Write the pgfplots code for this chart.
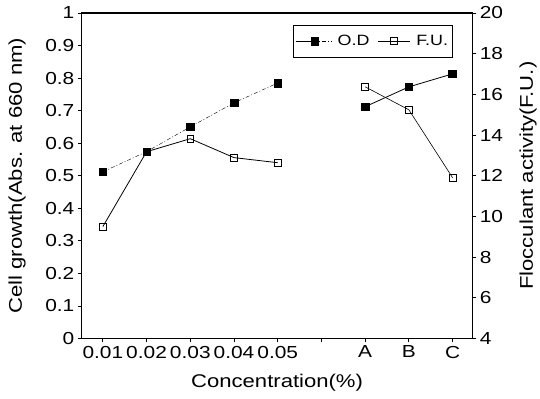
\documentclass[border=0pt]{standalone}
\usepackage{fontspec}
\setmainfont{Liberation Sans}[FakeStretch=1.2]
\usepackage{pgfplots}
\pgfplotsset{compat=1.18}
\pgfplotsset{
  odleg/.style={legend image code/.code={
    \draw[##1, mark=none] (0bp,0bp) -- (36bp,0bp);
    \draw[##1, solid, line width=0.8pt, mark=none] (0bp,0bp) -- (19bp,0bp);
    \draw[##1, only marks] plot coordinates {(19bp,0bp)};}},
  fuleg/.style={legend image code/.code={
    \draw[mark repeat=2,mark phase=2,##1] plot coordinates {(0bp,0bp) (16bp,0bp) (32bp,0bp)};}},
}
\begin{document}
\begin{tikzpicture}
\pgfplotsset{
  common/.style={
    scale only axis, width=391bp, height=326bp,
    xmin=0.52, xmax=9.45,
    /pgf/number format/assume math mode=true,
    tick label style={font=\fontsize{17.5}{19}\selectfont},
    label style={font=\fontsize{18.5}{20}\selectfont},
    tick align=outside, major tick length=4bp,
    axis line style={line width=1.2pt},
    every tick/.style={black, line width=0.8pt},
  }
}
\begin{axis}[common, name=a,
  ymin=0, ymax=1,
  ytick={0,0.1,...,1.0},
  yticklabels={0,0.1,0.2,0.3,0.4,0.5,0.6,0.7,0.8,0.9,1},
  xtick={1,2,3,4,5,6,7,8,9},
  xticklabels={0.01,0.02,0.03,0.04,0.05,{},A,B,C},
  xticklabel style={inner xsep=0pt},
  xtick pos=bottom, ytick pos=left,
  xlabel={Concentration(\%)},
  ylabel={Cell growth(Abs. at 660 nm)},
  xlabel style={at={(axis description cs:0.5,-0.135)}, anchor=center},
  ylabel style={at={(axis description cs:-0.166,0.5)}, anchor=center},
  legend style={at={(0.949,0.963)}, anchor=north east, draw=black, line width=0.6pt,
     font=\fontsize{15}{17}\selectfont, legend columns=2,
     inner xsep=2bp, inner ysep=8bp,
     /tikz/every odd column/.append style={column sep=4bp},
     /tikz/every even column/.append style={column sep=6bp}},
]
\addplot[black, thin, dash pattern=on 4pt off 2pt on 1pt off 2pt, mark=square*, mark size=3.8bp, mark options={solid}, odleg]
  coordinates {(1,0.512) (2,0.574) (3,0.650) (4,0.724) (5,0.785)};
\addlegendentry{O.D}
\addlegendimage{black, line width=0.8pt, mark=square, mark size=3.4bp, fuleg}
\addlegendentry{F.U.\hspace{14bp}}
\addplot[black, line width=0.8pt, mark=square*, mark size=3.8bp, forget plot]
  coordinates {(7,0.712) (8,0.773) (9,0.813)};
\end{axis}
\begin{axis}[common,
  ymin=4, ymax=20,
  ytick={4,6,...,20},
  axis y line*=right,
  axis x line=none,
  ylabel={Flocculant activity(F.U.)},
  ylabel style={at={(axis description cs:1.143,0.5)}, anchor=center, rotate=0},
]
\addplot[black, line width=0.8pt, mark=square, mark size=3.4bp, mark options={fill=white}]
  coordinates {(1,9.50) (2,13.18) (3,13.82) (4,12.89) (5,12.64)};
\addplot[black, line width=0.6pt, mark=square, mark size=3.4bp, mark options={fill=white}]
  coordinates {(7,16.37) (8,15.24) (9,11.9)};
\end{axis}
\path ([xshift=-82bp,yshift=-60bp]a.south west) rectangle ++(540bp,399bp);
\end{tikzpicture}
\end{document}
